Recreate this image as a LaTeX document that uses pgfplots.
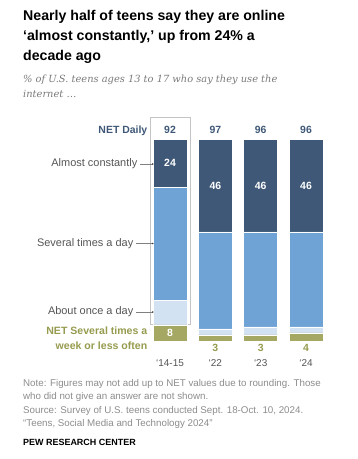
\documentclass[border=0pt]{standalone}
\usepackage{pgfplots}
\pgfplotsset{compat=1.18}
\usepackage{fontspec}
\setmainfont{Liberation Sans}
\newfontfamily\subfont{DejaVu Serif}
\definecolor{darkb}{HTML}{3F5877}
\definecolor{lightb}{HTML}{6FA3D5}
\definecolor{paleb}{HTML}{D3E2F2}
\definecolor{olive}{HTML}{A5A862}
\definecolor{olivetxt}{HTML}{969B4E}
\definecolor{notegray}{HTML}{8C8C8C}
\definecolor{subgray}{HTML}{7A7A7A}
\definecolor{labgray}{HTML}{555555}
\definecolor{boxgray}{HTML}{C4C4C4}
\tikzset{
  vlab/.style={font=\fontsize{10.5}{12}\selectfont\bfseries},
  ylab/.style={text=labgray, font=\fontsize{10}{12}\selectfont},
}
\begin{document}
\begin{tikzpicture}[x=1bp,y=1bp]
\path[use as bounding box] (0,0) rectangle (357,-459);
% title
\begin{scope}[every node/.style={anchor=base west, inner sep=0, font=\fontsize{14.2}{16}\selectfont\bfseries}]
\node at (23,-20.5) {Nearly half of teens say they are online};
\node at (23,-40.5) {‘almost constantly,’ up from 24\% a};
\node at (23,-60.5) {decade ago};
\end{scope}
\begin{scope}[every node/.style={anchor=base west, inner sep=0, text=subgray, font=\subfont\itshape\fontsize{9.9}{12}\selectfont}]
\node at (23,-83) {\% of U.S. teens ages 13 to 17 who say they use the};
\node at (23,-98) {internet …};
\end{scope}
% box around first bar
\draw[boxgray, line width=0.8pt] (150,-117.3) rectangle (190.5,-324.3);
\begin{axis}[
  at={(147.333bp,-341bp)}, anchor=south west,
  scale only axis, width=181.333bp, height=202bp,
  xmin=-0.5, xmax=3.5, ymin=0, ymax=100,
  ybar stacked, bar width=34bp,
  axis line style={draw=none}, major tick length=0pt,
  ytick=\empty, xtick=\empty,
  clip=false,
]
\addplot[fill=olive, draw=white, line width=0.4pt] coordinates {(0,8) (1,3) (2,3) (3,4)};
\addplot[fill=paleb, draw=white, line width=0.4pt] coordinates {(0,12) (1,3) (2,4) (3,3)};
\addplot[fill=lightb, draw=white, line width=0.4pt] coordinates {(0,56) (1,48) (2,47) (3,47)};
\addplot[fill=darkb, draw=white, line width=0.4pt] coordinates {(0,24) (1,46) (2,46) (3,46)};
\coordinate (t0) at (axis cs:0,100);
\coordinate (t1) at (axis cs:1,100);
\coordinate (t2) at (axis cs:2,100);
\coordinate (t3) at (axis cs:3,100);
\coordinate (a0) at (axis cs:0,88);
\coordinate (a1) at (axis cs:1,77);
\coordinate (a2) at (axis cs:2,77);
\coordinate (a3) at (axis cs:3,77);
\coordinate (g0) at (axis cs:0,4);
\coordinate (b0) at (axis cs:0,0);
\coordinate (b1) at (axis cs:1,0);
\coordinate (b2) at (axis cs:2,0);
\coordinate (b3) at (axis cs:3,0);
\end{axis}
% value labels
\node[vlab, text=darkb, anchor=base, yshift=5bp] at (t0) {92};
\node[vlab, text=darkb, anchor=base, yshift=5bp] at (t1) {97};
\node[vlab, text=darkb, anchor=base, yshift=5bp] at (t2) {96};
\node[vlab, text=darkb, anchor=base, yshift=5bp] at (t3) {96};
\node[vlab, text=white] at (a0) {24};
\node[vlab, text=white] at (a1) {46};
\node[vlab, text=white] at (a2) {46};
\node[vlab, text=white] at (a3) {46};
\node[vlab, text=white] at (g0) {8};
\node[vlab, text=olivetxt, yshift=-7bp] at (b1) {3};
\node[vlab, text=olivetxt, yshift=-7bp] at (b2) {3};
\node[vlab, text=olivetxt, yshift=-7bp] at (b3) {4};
\node[ylab, yshift=-21.7bp] at (b0) {‘14-15};
\node[ylab, yshift=-21.7bp] at (b1) {‘22};
\node[ylab, yshift=-21.7bp] at (b2) {‘23};
\node[ylab, yshift=-21.7bp] at (b3) {‘24};
% left labels
\node[anchor=base east, inner sep=0, text=darkb, font=\fontsize{10.5}{12}\selectfont\bfseries] at (147.5,-134) {NET Daily};
\begin{scope}[every node/.style={anchor=east, inner sep=0, text=labgray, font=\fontsize{11}{12}\selectfont}]
\node at (137.5,-164) {Almost constantly};
\node at (133.5,-243.5) {Several times a day};
\node at (133.5,-312) {About once a day};
\end{scope}
\draw[gray, line width=0.5pt] (140,-164) -- (152.7,-164);
\draw[gray, line width=0.5pt] (136,-243.5) -- (152.7,-243.5);
\draw[gray, line width=0.5pt] (136,-312) -- (152.7,-312);
\fill[black!75] (152.7,-164) circle (0.9);
\fill[black!75] (152.7,-243.5) circle (0.9);
\fill[black!75] (152.7,-312) circle (0.9);
\begin{scope}[every node/.style={anchor=east, inner sep=0, text=olivetxt, font=\fontsize{10.6}{12}\selectfont\bfseries}]
\node at (147.5,-330.7) {NET Several times a};
\node at (147.5,-345.7) {week or less often};
\end{scope}
% notes
\begin{scope}[every node/.style={anchor=base west, inner sep=0, text=notegray, font=\fontsize{9.8}{11}\selectfont}]
\node at (23,-386.5) {Note: Figures may not add up to NET values due to rounding. Those};
\node at (23,-399.5) {who did not give an answer are not shown.};
\node at (23,-413.5) {Source: Survey of U.S. teens conducted Sept. 18-Oct. 10, 2024.};
\node at (23,-426.5) {“Teens, Social Media and Technology 2024”};
\end{scope}
\node[anchor=base west, inner sep=0, font=\fontsize{9}{11}\selectfont\bfseries] at (23,-445) {PEW RESEARCH CENTER};
\end{tikzpicture}
\end{document}
